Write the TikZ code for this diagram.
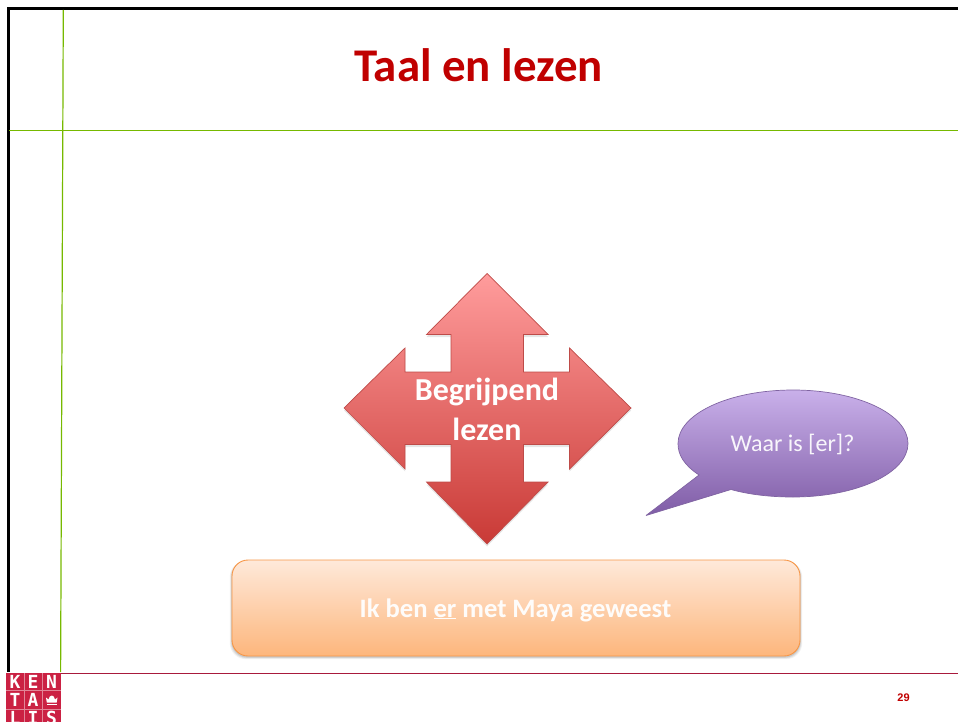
\documentclass[tikz,border=0pt]{standalone}
\usepackage{fontspec}
\setmainfont{Carlito}
\newfontfamily\arialfont{Liberation Sans}
\newfontfamily\logofont{DejaVu Sans Mono}
\definecolor{titlered}{HTML}{C00000}
\definecolor{slidegreen}{HTML}{76B900}
\definecolor{footred}{HTML}{A81A3C}
\definecolor{logored}{HTML}{CB2143}
\definecolor{arrowtop}{HTML}{FF9C9C}
\definecolor{arrowbot}{HTML}{C93A36}
\definecolor{arrowedge}{HTML}{BE4B48}
\definecolor{bubbletop}{HTML}{C9B0EA}
\definecolor{bubblebot}{HTML}{7F5CA6}
\definecolor{bubbleedge}{HTML}{8064A2}
\definecolor{boxtop}{HTML}{FEE9DA}
\definecolor{boxbot}{HTML}{FDB67C}
\definecolor{boxedge}{HTML}{F79646}
\tikzset{
  x=1pt,y=-1pt,
  frameline/.style={draw=black,line width=2.8pt},
  greenline/.style={draw=slidegreen,line width=1.2pt},
  softshadow/.style={fill=black,opacity=0.10,draw=none},
  redshape/.style={top color=arrowtop,bottom color=arrowbot,draw=arrowedge,line width=0.7pt},
  purpleshape/.style={top color=bubbletop,bottom color=bubblebot,draw=bubbleedge,line width=0.7pt,miter limit=3},
  orangebox/.style={top color=boxtop,bottom color=boxbot,draw=boxedge,line width=0.9pt,rounded corners=16pt},
  titletext/.style={text=titlered,font=\fontsize{46.9}{50}\selectfont\bfseries,inner sep=0pt},
  whitebold/.style={text=white,font=\fontsize{32}{39.5}\selectfont\bfseries,align=center,inner sep=0pt},
  bubbletext/.style={text=white,font=\fontsize{24}{28}\selectfont,inner sep=0pt,text opacity=0.92},
  boxtext/.style={text=white,font=\fontsize{26.6}{30}\selectfont\bfseries,inner sep=0pt,text opacity=0.95},
  pagenum/.style={text=titlered,font=\fontsize{11}{12}\selectfont\arialfont\bfseries,inner sep=0pt},
  logoletter/.style={text=white,font=\fontsize{18}{18}\selectfont\logofont\bfseries,inner sep=0pt},
}
\begin{document}
\begin{tikzpicture}
\useasboundingbox (0,0) rectangle (958,722);
% slide frame
\draw[frameline] (8.3,672) -- (8.3,8.4) -- (958,8.4);
\draw[greenline] (9,130.5) -- (958,130.5);
\draw[greenline] (63.3,10) -- (60.6,672);
\draw[draw=footred,line width=1pt] (8,673) -- (958,673);
% logo
\begin{scope}
\clip (6,673) rectangle (61,722);
\fill[logored] (6,673) rectangle (61,722);
\draw[white,opacity=0.45,line width=0.7pt] (24,673) -- (24,722) (42.5,673) -- (42.5,722)
  (6,690.5) -- (61,690.5) (6,709) -- (61,709);
\node[logoletter] (lk) at (15,682) {K};
\node[logoletter] (le) at (33,682) {E};
\node[logoletter] (ln) at (51.5,682) {N};
\node[logoletter] (lt) at (15,700) {T};
\node[logoletter] (la) at (33,700) {A};
\node[logoletter] (ll) at (15,718) {L};
\node[logoletter] (li) at (33,718) {I};
\node[logoletter] (ls) at (51.5,718) {S};
\fill[white] (47,703.5) rectangle (56.5,704.8);
\fill[white] (46.8,702.5) -- (46,697.5) -- (48.5,699.5) -- (49.8,696.5) -- (51.8,695.5) -- (53.7,696.5) -- (55,699.5) -- (57.5,697.5) -- (56.7,702.5) -- cycle;
\end{scope}
% title
\node[titletext] (title) at (478.5,65) {Taal en lezen};
% four-way arrow
\fill[softshadow] (487,275.5) -- (548,337) -- (523.5,337) -- (523.5,374.5) -- (569.5,374.5) -- (569.5,350.5) -- (631,410.5) -- (569.5,471.5) -- (569.5,447) -- (523.5,447) -- (523.5,484.5) -- (548,484.5) -- (487,546.5) -- (426.5,484.5) -- (451,484.5) -- (451,447) -- (405,447) -- (405,471.5) -- (344,410.5) -- (405,350.5) -- (405,374.5) -- (451,374.5) -- (451,337) -- (426.5,337) -- cycle;
\path[redshape] (487,273.5) -- (548,334.5) -- (523.5,334.5) -- (523.5,372) -- (569.5,372) -- (569.5,348) -- (631,408) -- (569.5,469) -- (569.5,444.5) -- (523.5,444.5) -- (523.5,482) -- (548,482) -- (487,544) -- (426.5,482) -- (451,482) -- (451,444.5) -- (405,444.5) -- (405,469) -- (344,408) -- (405,348) -- (405,372) -- (451,372) -- (451,334.5) -- (426.5,334.5) -- cycle;
\node[whitebold] (arrowlabel) at (487,409.5) {Begrijpend\\lezen};
% speech bubble
\path[purpleshape] (699,475) .. controls (684,465) and (678,455) .. (678,443.5)
  .. controls (678,414) and (729,390) .. (793,390)
  .. controls (857,390) and (908,414) .. (908,443.5)
  .. controls (908,473) and (857,497) .. (793,497)
  .. controls (770,497) and (749,494.5) .. (731,489.5)
  -- (646,515.5) -- cycle;
\node[bubbletext] (bubblelabel) at (792.5,444) {Waar is [er]?};
% box
\foreach \g/\o in {3.2/0.05,2.4/0.08,1.6/0.10}{
  \fill[black,opacity=\o,rounded corners=16pt] (232-\g+1,560+1) rectangle (800+\g-1,656+\g);
}
\node[orangebox,minimum width=568pt,minimum height=96pt,inner sep=0pt] (box) at (516,608) {};
\node[boxtext,anchor=base] (boxlabel) at (515.5,617) {Ik ben \underline{er} met Maya geweest};
% page number
\node[pagenum] (page) at (903.5,698) {29};
\end{tikzpicture}
\end{document}
